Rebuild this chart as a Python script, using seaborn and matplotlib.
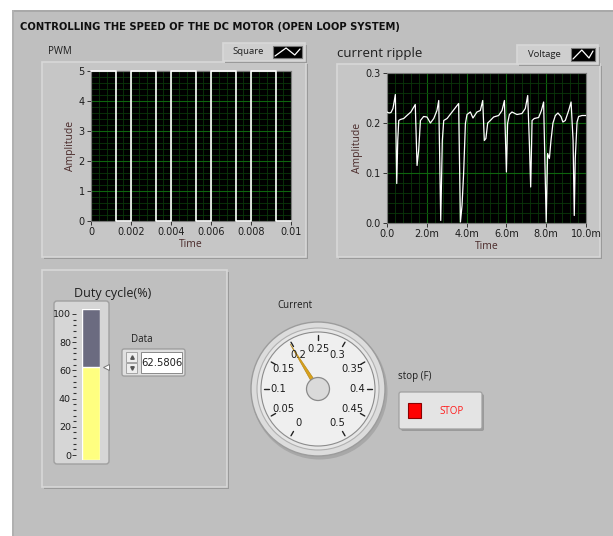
import numpy as np
import pandas as pd
import matplotlib
matplotlib.use("Agg")
import matplotlib.pyplot as plt
import seaborn as sns
from matplotlib.patches import Rectangle, FancyBboxPatch, Circle, Polygon
from matplotlib.ticker import MultipleLocator, FixedLocator

# ---- data ----
title = "CONTROLLING THE SPEED OF THE DC MOTOR (OPEN LOOP SYSTEM)"

pwm_edges = [0, 0.00125, 0.002, 0.00325, 0.004, 0.00525, 0.006, 0.00725, 0.008, 0.00925, 0.01]
pwm_levels = [5, 0, 5, 0, 5, 0, 5, 0, 5, 0, 0]
pwm_xticks = [0, 0.002, 0.004, 0.006, 0.008, 0.01]
pwm_xlabels = ["0", "0.002", "0.004", "0.006", "0.008", "0.01"]
pwm_yticks = [0, 1, 2, 3, 4, 5]

ripple_t_ms = [0, 0.1, 0.2, 0.3, 0.42, 0.49, 0.54, 0.59, 0.67, 0.84, 1.0, 1.2, 1.42, 1.51,
               1.59, 1.68, 1.84, 2.01, 2.18, 2.35, 2.51, 2.6, 2.7, 2.78, 2.85, 3.02, 3.27,
               3.6, 3.69, 3.77, 3.85, 3.94, 4.02, 4.19, 4.32, 4.52, 4.69, 4.81, 4.89, 4.97,
               5.06, 5.19, 5.36, 5.61, 5.78, 5.9, 6.0, 6.06, 6.15, 6.28, 6.53, 6.78, 6.95,
               7.07, 7.15, 7.22, 7.29, 7.4, 7.62, 7.76, 7.87, 8.0, 8.07, 8.16, 8.24, 8.34,
               8.46, 8.59, 8.74, 8.84, 8.96, 9.13, 9.25, 9.35, 9.41, 9.46, 9.55, 9.63, 9.8, 10.0]
ripple_v = [0.222, 0.22, 0.221, 0.229, 0.257, 0.079, 0.165, 0.205, 0.207, 0.209, 0.215, 0.222,
            0.237, 0.115, 0.145, 0.205, 0.213, 0.212, 0.2, 0.209, 0.225, 0.245, 0.005, 0.165,
            0.205, 0.209, 0.222, 0.239, 0.002, 0.035, 0.099, 0.199, 0.217, 0.222, 0.21, 0.222,
            0.225, 0.245, 0.165, 0.169, 0.2, 0.205, 0.212, 0.215, 0.225, 0.245, 0.102, 0.199,
            0.217, 0.222, 0.217, 0.219, 0.229, 0.255, 0.165, 0.072, 0.205, 0.209, 0.211, 0.225,
            0.242, 0.002, 0.139, 0.129, 0.165, 0.2, 0.215, 0.22, 0.213, 0.202, 0.205, 0.225,
            0.242, 0.165, 0.015, 0.129, 0.202, 0.213, 0.215, 0.215]
ripple_xticks = [0, 2, 4, 6, 8, 10]
ripple_xlabels = ["0.0", "2.0m", "4.0m", "6.0m", "8.0m", "10.0m"]
ripple_yticks = [0.0, 0.1, 0.2, 0.3]
ripple_ylabels = ["0.0", "0.1", "0.2", "0.3"]

duty = 62.5806
duty_ticks = [0, 20, 40, 60, 80, 100]

gauge_value = 0.197
gauge_ticks = [0, 0.05, 0.1, 0.15, 0.2, 0.25, 0.3, 0.35, 0.4, 0.45, 0.5]
gauge_labels = ["0", "0.05", "0.1", "0.15", "0.2", "0.25", "0.3", "0.35", "0.4", "0.45", "0.5"]

# ---- figure, everything laid out in pixels ----
sns.set_theme(style="white")
plt.rcParams["font.family"] = ["Open Sans", "DejaVu Sans"]

W, H = 613, 536
fig = plt.figure(figsize=(W / 100, H / 100), dpi=100)
fig.patch.set_facecolor("white")

PANEL = "#bfbfbf"
TXT = "#1e1e1e"
LBL = "#4a2a2a"
NARROW = ["Liberation Sans Narrow", "DejaVu Sans"]


def px_axes(x0, y0, x1, y1):
    return fig.add_axes([x0 / W, 1 - y1 / H, (x1 - x0) / W, (y1 - y0) / H])


bg = px_axes(0, 0, W, H)
bg.set_xlim(0, W)
bg.set_ylim(H, 0)
bg.axis("off")

bg.add_patch(Rectangle((12, 10), W - 12, H - 10, fc=PANEL, ec="none"))
bg.add_patch(Rectangle((12, 10), W - 12, 2, fc="#a9a9a9", ec="none"))
bg.add_patch(Rectangle((12, 10), 2, H - 10, fc="#b0b0b0", ec="none"))


def raised_box(x0, y0, x1, y1, fc=PANEL):
    bg.add_patch(Rectangle((x0 + 2, y0 + 2), x1 - x0, y1 - y0, fc="#9a9a9a", ec="none"))
    bg.add_patch(Rectangle((x0, y0), x1 - x0, y1 - y0, fc=fc, ec="#d8d8d8", lw=1.2))


bg.text(20, 27, title, fontsize=7.2, fontweight="bold", color="#101010",
        va="center", ha="left", family=NARROW)

# graph frames
raised_box(42, 62, 306, 257, fc="#c6c6c6")
raised_box(337, 64, 600, 257, fc="#c6c6c6")

bg.text(48, 52, "PWM", fontsize=7, color=TXT, va="center")
bg.text(337, 53, "current ripple", fontsize=9.5, color=TXT, va="center")


def legend_box(x0, y0, x1, y1, label, icon_x0):
    raised_box(x0, y0, x1, y1, fc="#cfcfcf")
    bg.text((x0 + icon_x0) / 2, (y0 + y1) / 2, label, fontsize=6.8, color=TXT,
            ha="center", va="center")
    bg.add_patch(Rectangle((icon_x0, y0 + 3), x1 - icon_x0 - 3, y1 - y0 - 6,
                           fc="black", ec="#777777", lw=0.8))
    iw = x1 - icon_x0 - 3
    xs = [icon_x0 + 2, icon_x0 + iw * 0.45, icon_x0 + iw * 0.75, icon_x0 + iw - 2]
    ys = [y1 - 5, y0 + 5, y1 - 6, y0 + 6]
    bg.plot(xs, ys, color="white", lw=0.9)


legend_box(223, 43, 305, 61, "Square", 273)
legend_box(517, 45, 598, 64, "Voltage", 571)


def style_graph(ax):
    ax.set_facecolor("black")
    for s in ax.spines.values():
        s.set_color("#7a7a7a")
        s.set_linewidth(0.8)
    ax.grid(which="minor", color="#0a360a", lw=0.6)
    ax.grid(which="major", color="#0e640e", lw=0.8)
    ax.set_axisbelow(True)
    ax.tick_params(which="major", direction="out", length=3, width=0.7, color="#333333",
                   labelsize=7, labelcolor=TXT, pad=1.5, left=True, bottom=True)
    ax.tick_params(which="minor", length=0)
    for lab in ax.get_xticklabels() + ax.get_yticklabels():
        lab.set_family(NARROW)


# PWM graph
ax1 = px_axes(91, 71, 291, 221)
pwm_df = pd.DataFrame({"t": pwm_edges, "v": pwm_levels})
ax1.step(pwm_df["t"], pwm_df["v"], where="post", color="white", lw=1.2,
         clip_on=False, zorder=4)
ax1.set_xlim(0, 0.01)
ax1.set_ylim(0, 5)
ax1.xaxis.set_major_locator(FixedLocator(pwm_xticks))
ax1.set_xticklabels(pwm_xlabels)
ax1.yaxis.set_major_locator(FixedLocator(pwm_yticks))
ax1.xaxis.set_minor_locator(MultipleLocator(0.0004))
ax1.yaxis.set_minor_locator(MultipleLocator(0.2))
style_graph(ax1)
ax1.set_xlabel("Time", fontsize=7.5, color=LBL, labelpad=1)
ax1.set_ylabel("Amplitude", fontsize=7.5, color=LBL, labelpad=2)

# current ripple graph
ax2 = px_axes(387, 73, 586, 223)
rip_df = pd.DataFrame({"t": ripple_t_ms, "v": ripple_v})
sns.lineplot(data=rip_df, x="t", y="v", ax=ax2, color="white", lw=0.9, zorder=4)
ax2.set_xlim(0, 10)
ax2.set_ylim(0, 0.3)
ax2.xaxis.set_major_locator(FixedLocator(ripple_xticks))
ax2.set_xticklabels(ripple_xlabels)
ax2.yaxis.set_major_locator(FixedLocator(ripple_yticks))
ax2.set_yticklabels(ripple_ylabels)
ax2.xaxis.set_minor_locator(MultipleLocator(0.4))
ax2.yaxis.set_minor_locator(MultipleLocator(0.02))
style_graph(ax2)
ax2.set_xlabel("Time", fontsize=7.5, color=LBL, labelpad=1)
ax2.set_ylabel("Amplitude", fontsize=7.5, color=LBL, labelpad=2)

# duty cycle tank
raised_box(42, 270, 227, 487)
bg.text(113, 294, "Duty cycle(%)", fontsize=9, color=TXT, ha="center", va="center")
bg.add_patch(FancyBboxPatch((54, 301), 55, 163, boxstyle="round,pad=0,rounding_size=3",
                            fc="#d6d6d6", ec="#a0a0a0", lw=1))

ax3 = px_axes(82, 309, 100, 460)
ax3.bar([0], [107], bottom=-3.5, width=1, color="#6b6b80")
ax3.bar([0], [duty + 3.5], bottom=-3.5, width=1, color="#ffff80")
ax3.plot([0.83], [duty], marker="<", ms=5, mfc="white", mec="#777777", mew=0.7, clip_on=False)
ax3.set_xlim(-0.5, 0.5)
ax3.set_ylim(-3.5, 103.5)
ax3.set_xticks([])
ax3.yaxis.set_major_locator(FixedLocator(duty_ticks))
ax3.yaxis.set_minor_locator(MultipleLocator(4))
for s in ax3.spines.values():
    s.set_visible(False)
ax3.spines["left"].set_position(("outward", 4))
ax3.tick_params(axis="y", which="major", direction="out", length=3, width=0.7,
                color="#333333", labelsize=6.8, labelcolor=TXT, pad=1, left=True)
ax3.tick_params(axis="y", which="minor", direction="out", length=2, width=0.8,
                color="#333333", left=True)
for lab in ax3.get_yticklabels():
    lab.set_family(NARROW)
ax3.set_facecolor("none")

# numeric control
bg.text(142, 340, "Data", fontsize=7, color=TXT, ha="center", va="center")
bg.add_patch(FancyBboxPatch((122, 349), 63, 27, boxstyle="round,pad=0,rounding_size=2",
                            fc="#e0e0e0", ec="#9a9a9a", lw=0.9))
bg.add_patch(Rectangle((141, 352), 41, 21, fc="white", ec="#8a8a8a", lw=0.7))
bg.add_patch(Rectangle((126, 352), 11, 10, fc="#eeeeee", ec="#9a9a9a", lw=0.6))
bg.add_patch(Rectangle((126, 363), 11, 10, fc="#eeeeee", ec="#9a9a9a", lw=0.6))
bg.plot([131.5], [357], marker="^", ms=2.5, color="#555555")
bg.plot([131.5], [368], marker="v", ms=2.5, color="#555555")
bg.text(161.5, 363, f"{duty:.4f}", fontsize=7.2, color=TXT, ha="center", va="center",
        family=NARROW)

# gauge
bg.text(295, 305, "Current", fontsize=7, color=TXT, ha="center", va="center")
cx, cy, R = 318, 389, 80
ax4 = px_axes(cx - R, cy - R, cx + R, cy + R)
ax4.set_xlim(-R, R)
ax4.set_ylim(-R, R)
ax4.set_aspect("equal")
ax4.axis("off")
ax4.add_patch(Circle((1.5, -2.5), 68, fc="#a8a8a8", ec="none"))
ax4.add_patch(Circle((0, 0), 67, fc="#dcdcdc", ec="#9c9c9c", lw=1))
ax4.add_patch(Circle((0, 0), 61, fc="#e6e6e6", ec="#b0b0b0", lw=0.8))
ax4.add_patch(Circle((0, 0), 57, fc="#efefef", ec="#8c8c8c", lw=0.8))


def gauge_angle(v):
    return np.deg2rad(240 - 600 * v)


for v, lab in zip(gauge_ticks, gauge_labels):
    a = gauge_angle(v)
    ax4.plot([49 * np.cos(a), 54 * np.cos(a)], [49 * np.sin(a), 54 * np.sin(a)],
             color="#222222", lw=1)
    ax4.text(39.5 * np.cos(a), 39.5 * np.sin(a), lab, fontsize=7.2, color=TXT,
             ha="center", va="center", family=NARROW)

a = gauge_angle(gauge_value)
perp = a + np.pi / 2
needle = [(2.2 * np.cos(perp), 2.2 * np.sin(perp)),
          (53 * np.cos(a), 53 * np.sin(a)),
          (-2.2 * np.cos(perp), -2.2 * np.sin(perp))]
ax4.add_patch(Polygon(needle, closed=True, fc="#d9a21c", ec="#b08010", lw=0.4))
ax4.add_patch(Circle((0, 0), 11.5, fc="#dadada", ec="#8a8a8a", lw=0.9))

# stop button
bg.text(398, 376, "stop (F)", fontsize=7, color=TXT, ha="left", va="center")
bg.add_patch(FancyBboxPatch((401, 394), 83, 37, boxstyle="round,pad=0,rounding_size=2",
                            fc="#9a9a9a", ec="none"))
bg.add_patch(FancyBboxPatch((399, 392), 83, 37, boxstyle="round,pad=0,rounding_size=2",
                            fc="#e4e4e4", ec="#a0a0a0", lw=0.9))
bg.add_patch(Rectangle((408, 403), 13, 15, fc="#ff0000", ec="#8a0000", lw=0.8))
bg.text(452, 411, "STOP", fontsize=7, color="#ff1a1a", ha="center", va="center")

fig.savefig("out.png", dpi=100, facecolor=fig.get_facecolor())
